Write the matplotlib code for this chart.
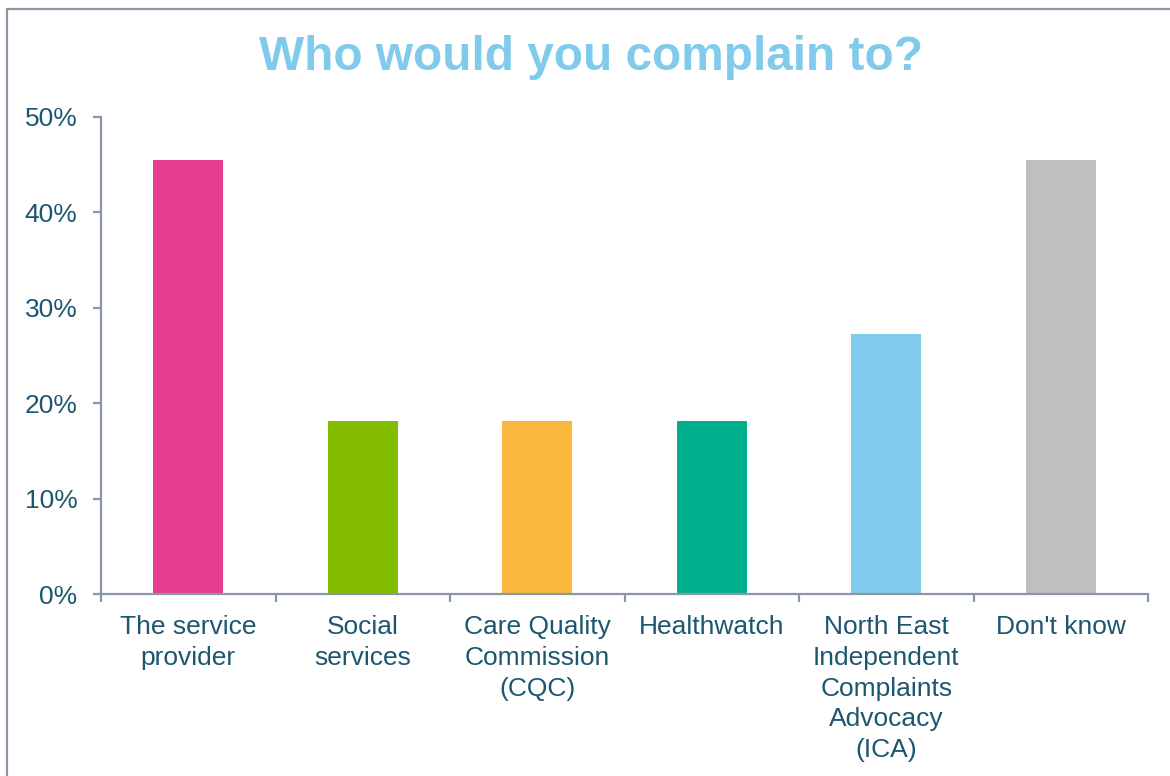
import matplotlib
matplotlib.use("Agg")
import matplotlib.pyplot as plt
from matplotlib.patches import Rectangle
from matplotlib.ticker import FuncFormatter, FixedLocator

# Datos del gráfico
categories = ["The service\nprovider", "Social\nservices", "Care Quality\nCommission\n(CQC)",
              "Healthwatch", "North East\nIndependent\nComplaints\nAdvocacy\n(ICA)", "Don't know"]
values = [45.45, 18.18, 18.18, 18.18, 27.27, 45.45]
colors = ["#e83e8f", "#84bd00", "#f8b93e", "#00b08c", "#80cbec", "#bfbfbf"]

plt.rcParams['font.family'] = ['Liberation Sans', 'DejaVu Sans']
text_color = "#1d5670"
axis_color = "#8a96a3"

fig = plt.figure(figsize=(11.7, 7.76), dpi=100)
ax = fig.add_axes([101/1170, 1 - 594/776, (1148-101)/1170, (594-117)/776])

# Marco exterior
fig.patches.append(Rectangle((7/1170, -0.1), 1.2, 1.1 - 9/776, transform=fig.transFigure,
                             fill=False, edgecolor=axis_color, linewidth=1.6))

x = range(len(categories))
ax.bar(x, values, width=0.4, color=colors)

ax.set_xlim(-0.5, len(categories) - 0.5)
ax.set_ylim(0, 50)
ax.set_yticks(range(0, 51, 10))
ax.yaxis.set_major_formatter(FuncFormatter(lambda v, p: f"{int(v)}%"))

ax.set_xticks(list(x))
ax.set_xticklabels(categories, fontsize=19, color=text_color, linespacing=1.36, va="top")
ax.tick_params(axis="x", which="major", length=0, pad=15)
ax.xaxis.set_minor_locator(FixedLocator([i - 0.5 for i in range(len(categories) + 1)]))
ax.tick_params(axis="x", which="minor", length=6, width=1.6, color=axis_color, direction="out")
ax.tick_params(axis="y", labelsize=19, labelcolor=text_color, length=6, width=1.6,
               color=axis_color, pad=11)

for side in ["top", "right"]:
    ax.spines[side].set_visible(False)
for side in ["left", "bottom"]:
    ax.spines[side].set_color(axis_color)
    ax.spines[side].set_linewidth(1.6)

fig.text(591/1170, 1 - 58/776, "Who would you complain to?", ha="center", va="center",
         fontsize=34.4, fontweight="bold", color="#80cbec")

fig.savefig("out.png", dpi=100)
